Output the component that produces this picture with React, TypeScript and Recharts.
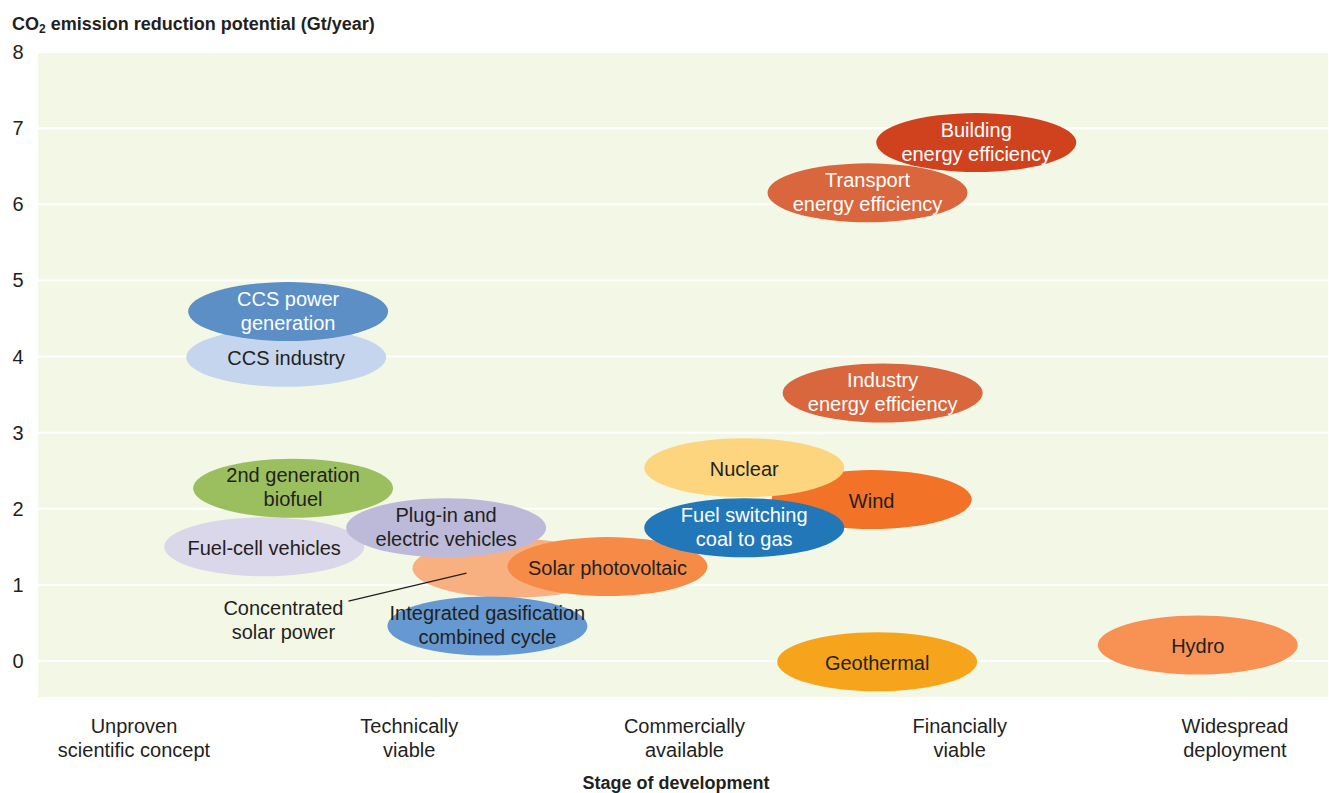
import React from "react";
import { ScatterChart, Scatter, XAxis, YAxis, CartesianGrid, Label } from "recharts";

// technologies, in drawing order (later ones sit on top)
const techLabels = [
  "Building\nenergy efficiency",
  "Transport\nenergy efficiency",
  "Industry\nenergy efficiency",
  "CCS industry",
  "CCS power\ngeneration",
  "Wind",
  "Nuclear",
  "Fuel-cell vehicles",
  "2nd generation\nbiofuel",
  "Concentrated\nsolar power",
  "Solar photovoltaic",
  "Fuel switching\ncoal to gas",
  "Plug-in and\nelectric vehicles",
  "Integrated gasification\ncombined cycle",
  "Geothermal",
  "Hydro",
];

// stage of development (0 = unproven ... 4 = widespread)
const stageValues = [3.06, 2.665, 2.72, 0.553, 0.56, 2.68, 2.217, 0.473, 0.578, 1.375, 1.72, 2.217, 1.134, 1.284, 2.7, 3.865];

// CO2 emission reduction potential, Gt/year
const potentialValues = [6.81, 6.15, 3.52, 3.99, 4.59, 2.12, 2.54, 1.5, 2.27, 1.22, 1.24, 1.75, 1.75, 0.46, -0.01, 0.21];

const techColors = [
  "#D0421E", "#D9663C", "#D9663C", "#C5D5EE", "#5B8FC6", "#F27227", "#FDD57E", "#DAD7EA",
  "#9BBF5E", "#F9B080", "#F68B47", "#2277B8", "#BDBAD9", "#6699D1", "#F7A41D", "#F79154",
];

const whiteText = [true, true, true, false, true, false, false, false, false, false, false, true, false, false, false, false];

// label of the concentrated solar power bubble is drawn outside with a leader line
const calloutTech = "Concentrated\nsolar power";

const stageTicks = [0, 1, 2, 3, 4];
const stageLabels = [
  "Unproven\nscientific concept",
  "Technically\nviable",
  "Commercially\navailable",
  "Financially\nviable",
  "Widespread\ndeployment",
];
const potentialTicks = [0, 1, 2, 3, 4, 5, 6, 7, 8];

const data = techLabels.map((label, i) => ({
  label,
  stage: stageValues[i],
  potential: potentialValues[i],
  fill: techColors[i],
  white: whiteText[i],
}));

const FONT = "'Liberation Sans Narrow', 'Arial Narrow', 'Liberation Sans', sans-serif";
const INK = "#231F20";

const Bubble = (props: any) => {
  const { cx, cy, payload } = props;
  const lines: string[] = payload.label.split("\n");
  if (payload.label === calloutTech) {
    return (
      <g>
        <ellipse cx={cx} cy={cy} rx={100} ry={29.5} fill={payload.fill} />
        <line x1={cx - 164} y1={cy + 33} x2={cx - 46} y2={cy + 5} stroke={INK} strokeWidth={1.3} />
        <text x={cx - 229} textAnchor="middle" fontFamily={FONT} fontSize={20} fill={INK}>
          {lines.map((l, k) => (
            <tspan key={k} x={cx - 229} y={cy + 40 + k * 24} dominantBaseline="central">{l}</tspan>
          ))}
        </text>
      </g>
    );
  }
  const start = lines.length === 1 ? 1 : -13;
  return (
    <g>
      <ellipse cx={cx} cy={cy} rx={100} ry={29.5} fill={payload.fill} />
      <text textAnchor="middle" fontFamily={FONT} fontSize={20} fill={payload.white ? "#FFFFFF" : INK}>
        {lines.map((l, k) => (
          <tspan key={k} x={cx} y={cy + start + k * 24} dominantBaseline="central">{l}</tspan>
        ))}
      </text>
    </g>
  );
};

const StageTick = (props: any) => {
  const { x, y, payload } = props;
  const lines = stageLabels[payload.value].split("\n");
  return (
    <text textAnchor="middle" fontFamily={FONT} fontSize={20} fill={INK}>
      {lines.map((l, k) => (
        <tspan key={k} x={x} y={y + 28 + k * 24} dominantBaseline="central">{l}</tspan>
      ))}
    </text>
  );
};

const PotentialTick = (props: any) => {
  const { y, payload } = props;
  return (
    <text x={18} y={y} textAnchor="middle" dominantBaseline="central" fontFamily={FONT} fontSize={20} fill={INK}>
      {payload.value}
    </text>
  );
};

export default function App() {
  return (
    <div style={{ position: "absolute", left: 0, top: 0, width: 1329, height: 793, background: "#fff" }}>
      <div
        style={{
          position: "absolute",
          left: 12,
          top: 12,
          fontFamily: FONT,
          fontWeight: "bold",
          fontSize: 18,
          color: INK,
          whiteSpace: "nowrap",
          lineHeight: "24px",
        }}
      >
        CO<sub style={{ fontSize: 12, verticalAlign: "-3px", lineHeight: 0 }}>2</sub> emission reduction potential (Gt/year)
      </div>
      <ScatterChart width={1329} height={793} margin={{ top: 52, right: 1, bottom: 0, left: 8 }}>
        <CartesianGrid vertical={false} stroke="#FFFFFF" strokeWidth={2} fill="#F3F8E6" fillOpacity={1} />
        <XAxis
          type="number"
          dataKey="stage"
          domain={[-0.3488, 4.338]}
          ticks={stageTicks}
          allowDataOverflow
          axisLine={false}
          tickLine={false}
          tickSize={0}
          tickMargin={0}
          height={95}
          tick={<StageTick />}
          interval={0}
        >
          <Label
            value="Stage of development"
            position="insideBottom"
            offset={0}
            dx={-7}
            dy={-4}
            style={{ fontFamily: FONT, fontWeight: "bold", fontSize: 18, fill: INK }}
          />
        </XAxis>
        <YAxis
          type="number"
          dataKey="potential"
          domain={[-0.486, 8]}
          ticks={potentialTicks}
          allowDataOverflow
          axisLine={false}
          tickLine={false}
          width={30}
          tick={<PotentialTick />}
          interval={0}
        />
        <Scatter data={data} shape={<Bubble />} isAnimationActive={false} />
      </ScatterChart>
    </div>
  );
}
